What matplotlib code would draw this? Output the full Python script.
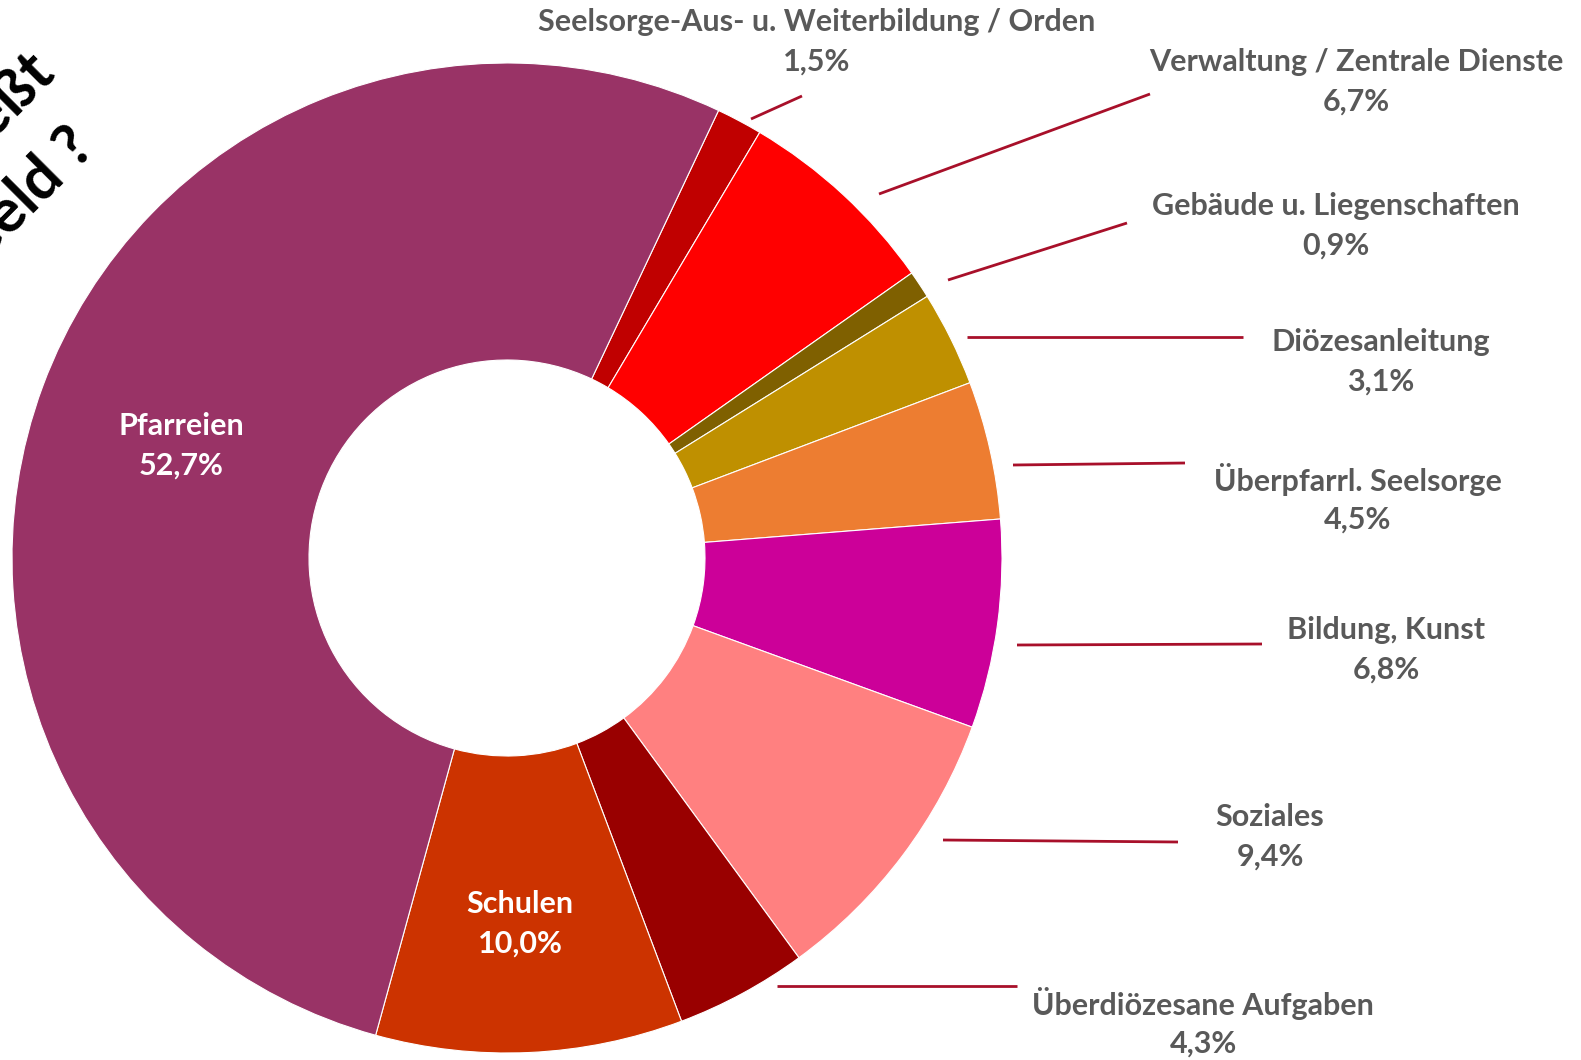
import matplotlib.pyplot as plt

plt.rcParams["font.family"] = ["Lato", "DejaVu Sans"]

# shares in percent, clockwise from the top
categories = ["Seelsorge-Aus- u. Weiterbildung / Orden", "Verwaltung / Zentrale Dienste",
              "Gebäude u. Liegenschaften", "Diözesanleitung", "Überpfarrl. Seelsorge",
              "Bildung, Kunst", "Soziales", "Überdiözesane Aufgaben", "Schulen", "Pfarreien"]
shares = [1.5, 6.7, 0.9, 3.1, 4.5, 6.8, 9.4, 4.3, 10.0, 52.7]
share_labels = ["1,5%", "6,7%", "0,9%", "3,1%", "4,5%", "6,8%", "9,4%", "4,3%", "10,0%", "52,7%"]
colors = ["#C00000", "#FF0000", "#7F6000", "#BF9000", "#ED7D31",
          "#CC0099", "#FF8080", "#990000", "#CC3300", "#993366"]

W, H = 1581, 1060
fig = plt.figure(figsize=(W / 100, H / 100), dpi=100)
ax = fig.add_axes([0, 0, 1, 1])

cx, cy = 507, H - 558
R = 495

ax.pie(shares, colors=colors, startangle=64.7, counterclock=False,
       center=(cx, cy), radius=R, frame=True,
       wedgeprops=dict(width=R * 0.6, edgecolor="white", linewidth=0.8))
ax.set_xlim(0, W)
ax.set_ylim(0, H)
ax.set_aspect("equal")
ax.axis("off")

# label layout in image pixels:
# text x, name line y, leader start x, y, leader end x, y
outer = {
    0: (817, 22, 751, 119, 802, 96),
    1: (1356, 62, 879, 194, 1150, 94),
    2: (1336, 206, 948, 280, 1127, 223),
    3: (1381, 342, 967, 337, 1243, 337),
    4: (1358, 480, 1013, 465, 1185, 463),
    5: (1386, 630, 1017, 645, 1262, 644),
    6: (1270, 817, 943, 840, 1178, 842),
    7: (1203, 1004, 777, 986, 1017, 986),
}
inner = {8: (520, 904), 9: (181, 426)}

txt_color = "#595959"
line_color = "#A8102A"
fs = 22
for i, (tx, ty, x0, y0, x1, y1) in outer.items():
    ax.plot([x0, x1], [H - y0, H - y1], color=line_color, lw=2.0, solid_capstyle="butt")
    ax.text(tx, H - ty, categories[i], ha="center", va="center", fontsize=fs,
            fontweight="bold", color=txt_color)
    ax.text(tx, H - ty - 40, share_labels[i], ha="center", va="center", fontsize=fs,
            fontweight="bold", color=txt_color)

for i, (tx, ty) in inner.items():
    ax.text(tx, H - ty, categories[i], ha="center", va="center", fontsize=fs,
            fontweight="bold", color="white")
    ax.text(tx, H - ty - 40, share_labels[i], ha="center", va="center", fontsize=fs,
            fontweight="bold", color="white")

# title, cut off by the left edge as in the original
ax.text(58, H - 76, "Wohin fließt", rotation=45, rotation_mode="anchor",
        ha="right", va="baseline", fontsize=44, fontweight="bold", color="black")
ax.text(97, H - 150, "das Geld ?", rotation=45, rotation_mode="anchor",
        ha="right", va="baseline", fontsize=44, fontweight="bold", color="black")

fig.savefig("out.png", dpi=100)
